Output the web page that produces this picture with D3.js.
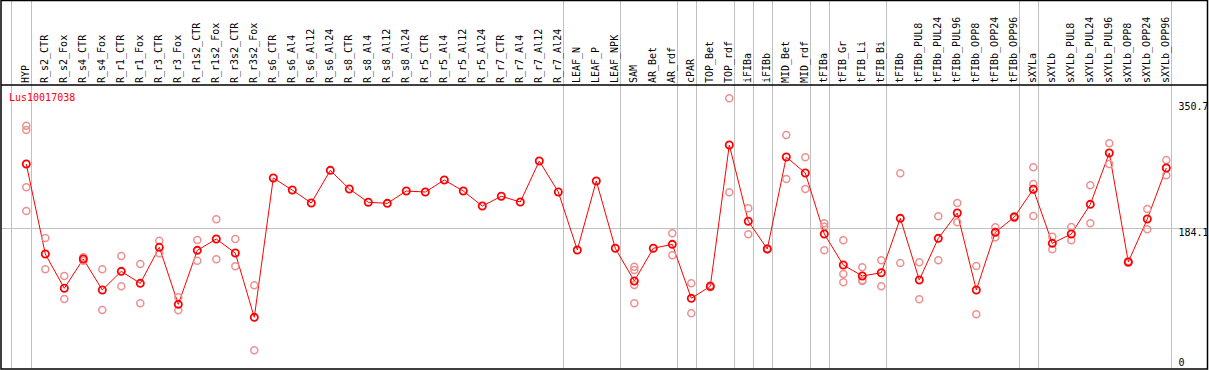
<!DOCTYPE html>
<html>
<head>
<meta charset="utf-8">
<script src="https://cdn.jsdelivr.net/npm/d3@7"></script>
<style>
    body { margin: 0; background: #fff; }
    text { font-family: "DejaVu Sans Mono", monospace; font-size: 10px; }
</style>
</head>
<body>
<svg id="chart" width="1209" height="370"></svg>
<script>
const geneId = "Lus10017038";

const samples = ["HYP", "R_s2_CTR", "R_s2_Fox", "R_s4_CTR", "R_s4_Fox", "R_r1_CTR", "R_r1_Fox",
    "R_r3_CTR", "R_r3_Fox", "R_r1s2_CTR", "R_r1s2_Fox", "R_r3s2_CTR", "R_r3s2_Fox",
    "R_s6_CTR", "R_s6_Al4", "R_s6_Al12", "R_s6_Al24", "R_s8_CTR", "R_s8_Al4", "R_s8_Al12", "R_s8_Al24",
    "R_r5_CTR", "R_r5_Al4", "R_r5_Al12", "R_r5_Al24", "R_r7_CTR", "R_r7_Al4", "R_r7_Al12", "R_r7_Al24",
    "LEAF_N", "LEAF_P", "LEAF_NPK", "SAM", "AR_Bet", "AR_rdf", "cPAR", "TOP_Bet", "TOP_rdf",
    "iFIBa", "iFIBb", "MID_Bet", "MID_rdf", "tFIBa", "tFIB_Gr", "tFIB_Li", "tFIB_Bi",
    "tFIBb", "tFIBb_PUL8", "tFIBb_PUL24", "tFIBb_PUL96", "tFIBb_OPP8", "tFIBb_OPP24", "tFIBb_OPP96",
    "sXYLa", "sXYLb", "sXYLb_PUL8", "sXYLb_PUL24", "sXYLb_PUL96", "sXYLb_OPP8", "sXYLb_OPP24", "sXYLb_OPP96"];

// mean expression per sample
const means = [268.2, 149.9, 104.8, 143.3, 102.6, 127.1, 111.3, 158.7, 83.7, 154.7, 169.6, 151.2, 66.6,
    249.8, 234.0, 217.0, 259.9, 235.4, 217.9, 216.5, 232.7, 231.4, 247.2, 232.7, 213.0, 225.8, 218.3, 272.2, 231.4,
    155.2, 245.9, 157.4, 114.4, 157.4, 162.6, 91.6, 107.4, 293.2, 192.9, 156.5, 277.4, 256.4, 176.2, 135.4, 121.0, 125.3,
    196.8, 115.7, 170.5, 203.8, 102.6, 178.4, 198.6, 235.0, 163.9, 176.2, 215.2, 282.7, 139.4, 195.9, 263.0];

// individual replicates per sample
const replicates = [
    [318.6, 313, 237.6, 206.4], [170.9, 129.8], [121, 90.7], [145.5, 141], [129.8, 76.3], [147.3, 107.4],
    [136.8, 85], [167.4, 150.8], [92.9, 75.8], [168.3, 141.1], [195.5, 142.9], [169.6, 133.7], [108.7, 23.2],
    [], [], [], [], [], [], [], [], [], [], [], [], [], [], [], [],
    [], [], [], [133.2, 128.9, 109.1, 85], [], [177.1, 148.2], [111.3, 71.9], [108.5, 106.3], [354.6, 231],
    [210, 175.8], [157, 156], [306.4, 248.5], [277, 235.4], [190.3, 185.8, 154.7], [167.9, 123.6, 112.7],
    [132.4, 115.5, 114.4], [141.6, 107.4],
    [256, 138.1], [139, 90.3], [199.5, 141.6], [217, 191.6], [134.1, 70.6], [185, 171.9], [199.5, 197.7],
    [263.9, 241.9, 199.9], [172.7, 156.1], [185.4, 167.9], [240.2, 190.3], [295.5, 268.2], [140.5, 138.5],
    [209.1, 182.4], [273.5, 253.4]];

// index of last sample in each group (-1 = left edge)
const groupEnds = [-1, 0, 28, 31, 34, 35, 37, 38, 39, 41, 42, 45, 52, 53, 60];

const yTicks = [350.7, 184.1, 0];

const headerBottom = 85, plotBottom = 368.5;

const svg = d3.select("#chart");

const x = d3.scaleLinear()
    .domain([0, samples.length - 1])
    .range([26.3, 1166.3]);

const y = d3.scaleLinear()
    .domain([0, 350.7])
    .range([368, 101.3]);

// group separators (the left-most one sits a pixel further out)
const sepX = d => Math.round(x(d + 0.25)) - (d < 0 ? 1 : 0) + 0.5;

svg.selectAll("line.sep")
    .data(groupEnds)
    .enter()
    .append("line")
    .attr("class", "sep")
    .attr("x1", sepX)
    .attr("x2", sepX)
    .attr("y1", 0)
    .attr("y2", plotBottom)
    .attr("stroke", "#c0c0c0")
    .attr("stroke-width", 1);

// middle grid line
svg.append("line")
    .attr("x1", 1)
    .attr("x2", 1207)
    .attr("y1", Math.round(y(184.1)) + 0.5)
    .attr("y2", Math.round(y(184.1)) + 0.5)
    .attr("stroke", "#c0c0c0")
    .attr("stroke-width", 1);

// frame
svg.append("rect")
    .attr("x", 1)
    .attr("y", 0.5)
    .attr("width", 1206.5)
    .attr("height", plotBottom)
    .attr("fill", "none")
    .attr("stroke", "#000")
    .attr("stroke-width", 1.5);

svg.append("line")
    .attr("x1", 1)
    .attr("x2", 1207.5)
    .attr("y1", headerBottom)
    .attr("y2", headerBottom)
    .attr("stroke", "#000")
    .attr("stroke-width", 1.5);

// sample labels
svg.selectAll("text.sample")
    .data(samples)
    .enter()
    .append("text")
    .attr("class", "sample")
    .attr("transform", (d, i) => `translate(${x(i) + 3},83) rotate(-90)`)
    .attr("text-anchor", "start")
    .attr("fill", "#000")
    .text(d => d);

// y labels
svg.selectAll("text.ytick")
    .data(yTicks)
    .enter()
    .append("text")
    .attr("class", "ytick")
    .attr("x", 1178.5)
    .attr("y", d => Math.min(y(d) + 8.5, 365.5))
    .attr("fill", "#000")
    .text(d => d);

// title
svg.append("text")
    .attr("x", 9)
    .attr("y", 101)
    .attr("fill", "#ff0000")
    .text(geneId);

// mean line
const line = d3.line()
    .x((d, i) => x(i))
    .y(d => y(d));

svg.append("path")
    .datum(means)
    .attr("fill", "none")
    .attr("stroke", "#ff0000")
    .attr("stroke-width", 1)
    .attr("d", line);

// replicates
const repPoints = [];
replicates.forEach((reps, i) => reps.forEach(v => repPoints.push({i: i, v: v})));

svg.selectAll("circle.rep")
    .data(repPoints)
    .enter()
    .append("circle")
    .attr("class", "rep")
    .attr("cx", d => x(d.i))
    .attr("cy", d => y(d.v))
    .attr("r", 3.5)
    .attr("fill", "none")
    .attr("stroke", "#ee9090")
    .attr("stroke-width", 1.5);

// means
svg.selectAll("circle.mean")
    .data(means)
    .enter()
    .append("circle")
    .attr("class", "mean")
    .attr("cx", (d, i) => x(i))
    .attr("cy", d => y(d))
    .attr("r", 3.6)
    .attr("fill", "none")
    .attr("stroke", "#ff0000")
    .attr("stroke-width", 1.8);
</script>
</body>
</html>
